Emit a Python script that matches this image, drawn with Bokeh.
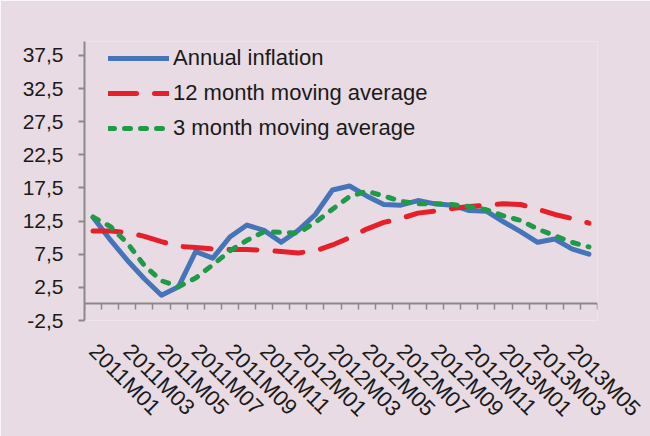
import math
from bokeh.plotting import figure
from bokeh.models import (LinearAxis, FixedTicker, Range1d, Legend, LegendItem,
                          ColumnDataSource, CustomJSTickFormatter)
from bokeh.embed import file_html
from bokeh.resources import INLINE

# ---------------- data ----------------
months = ["2011M01", "2011M02", "2011M03", "2011M04", "2011M05", "2011M06",
          "2011M07", "2011M08", "2011M09", "2011M10", "2011M11", "2011M12",
          "2012M01", "2012M02", "2012M03", "2012M04", "2012M05", "2012M06",
          "2012M07", "2012M08", "2012M09", "2012M10", "2012M11", "2012M12",
          "2013M01", "2013M02", "2013M03", "2013M04", "2013M05", "2013M06"]

annual_inflation = [13.1, 9.7, 6.6, 3.8, 1.3, 2.6, 7.9, 6.9, 10.1, 11.9,
                    11.1, 9.3, 11.1, 13.5, 17.2, 17.8, 16.3, 15.0, 14.9, 15.6,
                    15.1, 14.9, 14.1, 14.0, 12.4, 10.9, 9.3, 9.8, 8.3, 7.5]

ma12 = [11.0, 11.0, 10.8, 10.2, 9.4, 8.7, 8.5, 8.3, 8.2, 8.2,
        8.1, 7.9, 7.7, 8.0, 8.9, 10.0, 11.3, 12.3, 12.9, 13.7,
        14.0, 14.4, 14.7, 14.9, 15.1, 15.0, 14.3, 13.5, 12.9, 12.2]

ma3 = [13.1, 11.7, 9.2, 5.8, 3.5, 2.6, 3.9, 5.9, 8.0, 9.6,
       10.9, 10.8, 10.7, 12.3, 14.3, 16.2, 17.0, 16.3, 15.5, 15.1,
       15.1, 15.0, 14.7, 14.2, 13.3, 12.6, 11.3, 10.3, 9.3, 8.6]

series_names = ["Annual inflation", "12 month moving average", "3 month moving average"]

y_ticks = [-2.5, 2.5, 7.5, 12.5, 17.5, 22.5, 27.5, 32.5, 37.5]
y_tick_labels = ["-2,5", "2,5", "7,5", "12,5", "17,5", "22,5", "27,5", "32,5", "37,5"]

# ---------------- styling ----------------
PINK = "#E9DBE3"
AXIS = "#8A8A8A"
FONT = "Liberation Sans"
TXT = "#1A1A1A"
BLUE = "#4674B9"
RED = "#E5202A"
GREEN = "#1F9A48"

# category centres on a numeric scale (one unit per month)
xpos = [i + 0.5 for i in range(len(months))]
src = ColumnDataSource(dict(x=xpos, infl=annual_inflation, ma12=ma12, ma3=ma3))

p = figure(width=650, height=436, output_backend="svg", toolbar_location=None,
           x_range=Range1d(0, len(months)), y_range=Range1d(-2.5, 39.6),
           x_axis_type=None, y_axis_type=None,
           min_border_left=84, min_border_right=53, min_border_top=41,
           min_border_bottom=116,
           background_fill_color=PINK, border_fill_color=PINK,
           outline_line_color=None)

# y axis
yax = LinearAxis(ticker=FixedTicker(ticks=y_ticks),
                 major_label_overrides=dict(zip(y_ticks, y_tick_labels)))
yax.axis_line_color = AXIS
yax.axis_line_width = 2
yax.major_tick_line_color = AXIS
yax.major_tick_line_width = 2
yax.major_tick_out = 6
yax.major_tick_in = 0
yax.minor_tick_line_color = None
yax.major_label_standoff = 15
yax.major_label_text_font = FONT
yax.major_label_text_font_size = "21px"
yax.major_label_text_color = TXT
p.add_layout(yax, "left")

# category labels (every second month), rotated
lab_idx = list(range(0, len(months), 2))
xlab = LinearAxis(ticker=FixedTicker(ticks=[xpos[i] for i in lab_idx]),
                  major_label_overrides={xpos[i]: months[i] for i in lab_idx})
xlab.major_label_orientation = -math.pi / 4
xlab.axis_line_color = None
xlab.major_tick_line_color = None
xlab.minor_tick_line_color = None
xlab.major_label_standoff = 21
xlab.major_label_text_font = FONT
xlab.major_label_text_font_size = "22px"
xlab.major_label_text_color = TXT
p.add_layout(xlab, "below")

# horizontal axis line crossing at zero with ticks between categories
xzero = LinearAxis(fixed_location=0,
                   ticker=FixedTicker(ticks=list(range(len(months) + 1))),
                   formatter=CustomJSTickFormatter(code="return ''"))
xzero.axis_line_color = AXIS
xzero.axis_line_width = 2
xzero.major_tick_line_color = AXIS
xzero.major_tick_line_width = 1.5
xzero.major_tick_out = 6
xzero.major_tick_in = 0
xzero.minor_tick_line_color = None
xzero.major_label_standoff = 0
p.add_layout(xzero, "below")

r1 = p.line("x", "infl", source=src, line_color=BLUE, line_width=5,
            line_join="round", line_cap="round")
r2 = p.line("x", "ma12", source=src, line_color=RED, line_width=5,
            line_dash="28 18", line_join="round", line_cap="round")
r3 = p.line("x", "ma3", source=src, line_color=GREEN, line_width=5,
            line_dash="6 10", line_join="round", line_cap="round")

legend = Legend(items=[LegendItem(label=series_names[0], renderers=[r1]),
                       LegendItem(label=series_names[1], renderers=[r2]),
                       LegendItem(label=series_names[2], renderers=[r3])],
                location=(24, 177), glyph_width=61, glyph_height=30,
                label_height=30, spacing=5, padding=0, margin=0,
                label_standoff=4, background_fill_alpha=0,
                border_line_color=None, label_text_font=FONT,
                label_text_font_size="22px", label_text_color=TXT)
p.add_layout(legend)

open("out.html", "w").write(file_html(p, INLINE))
